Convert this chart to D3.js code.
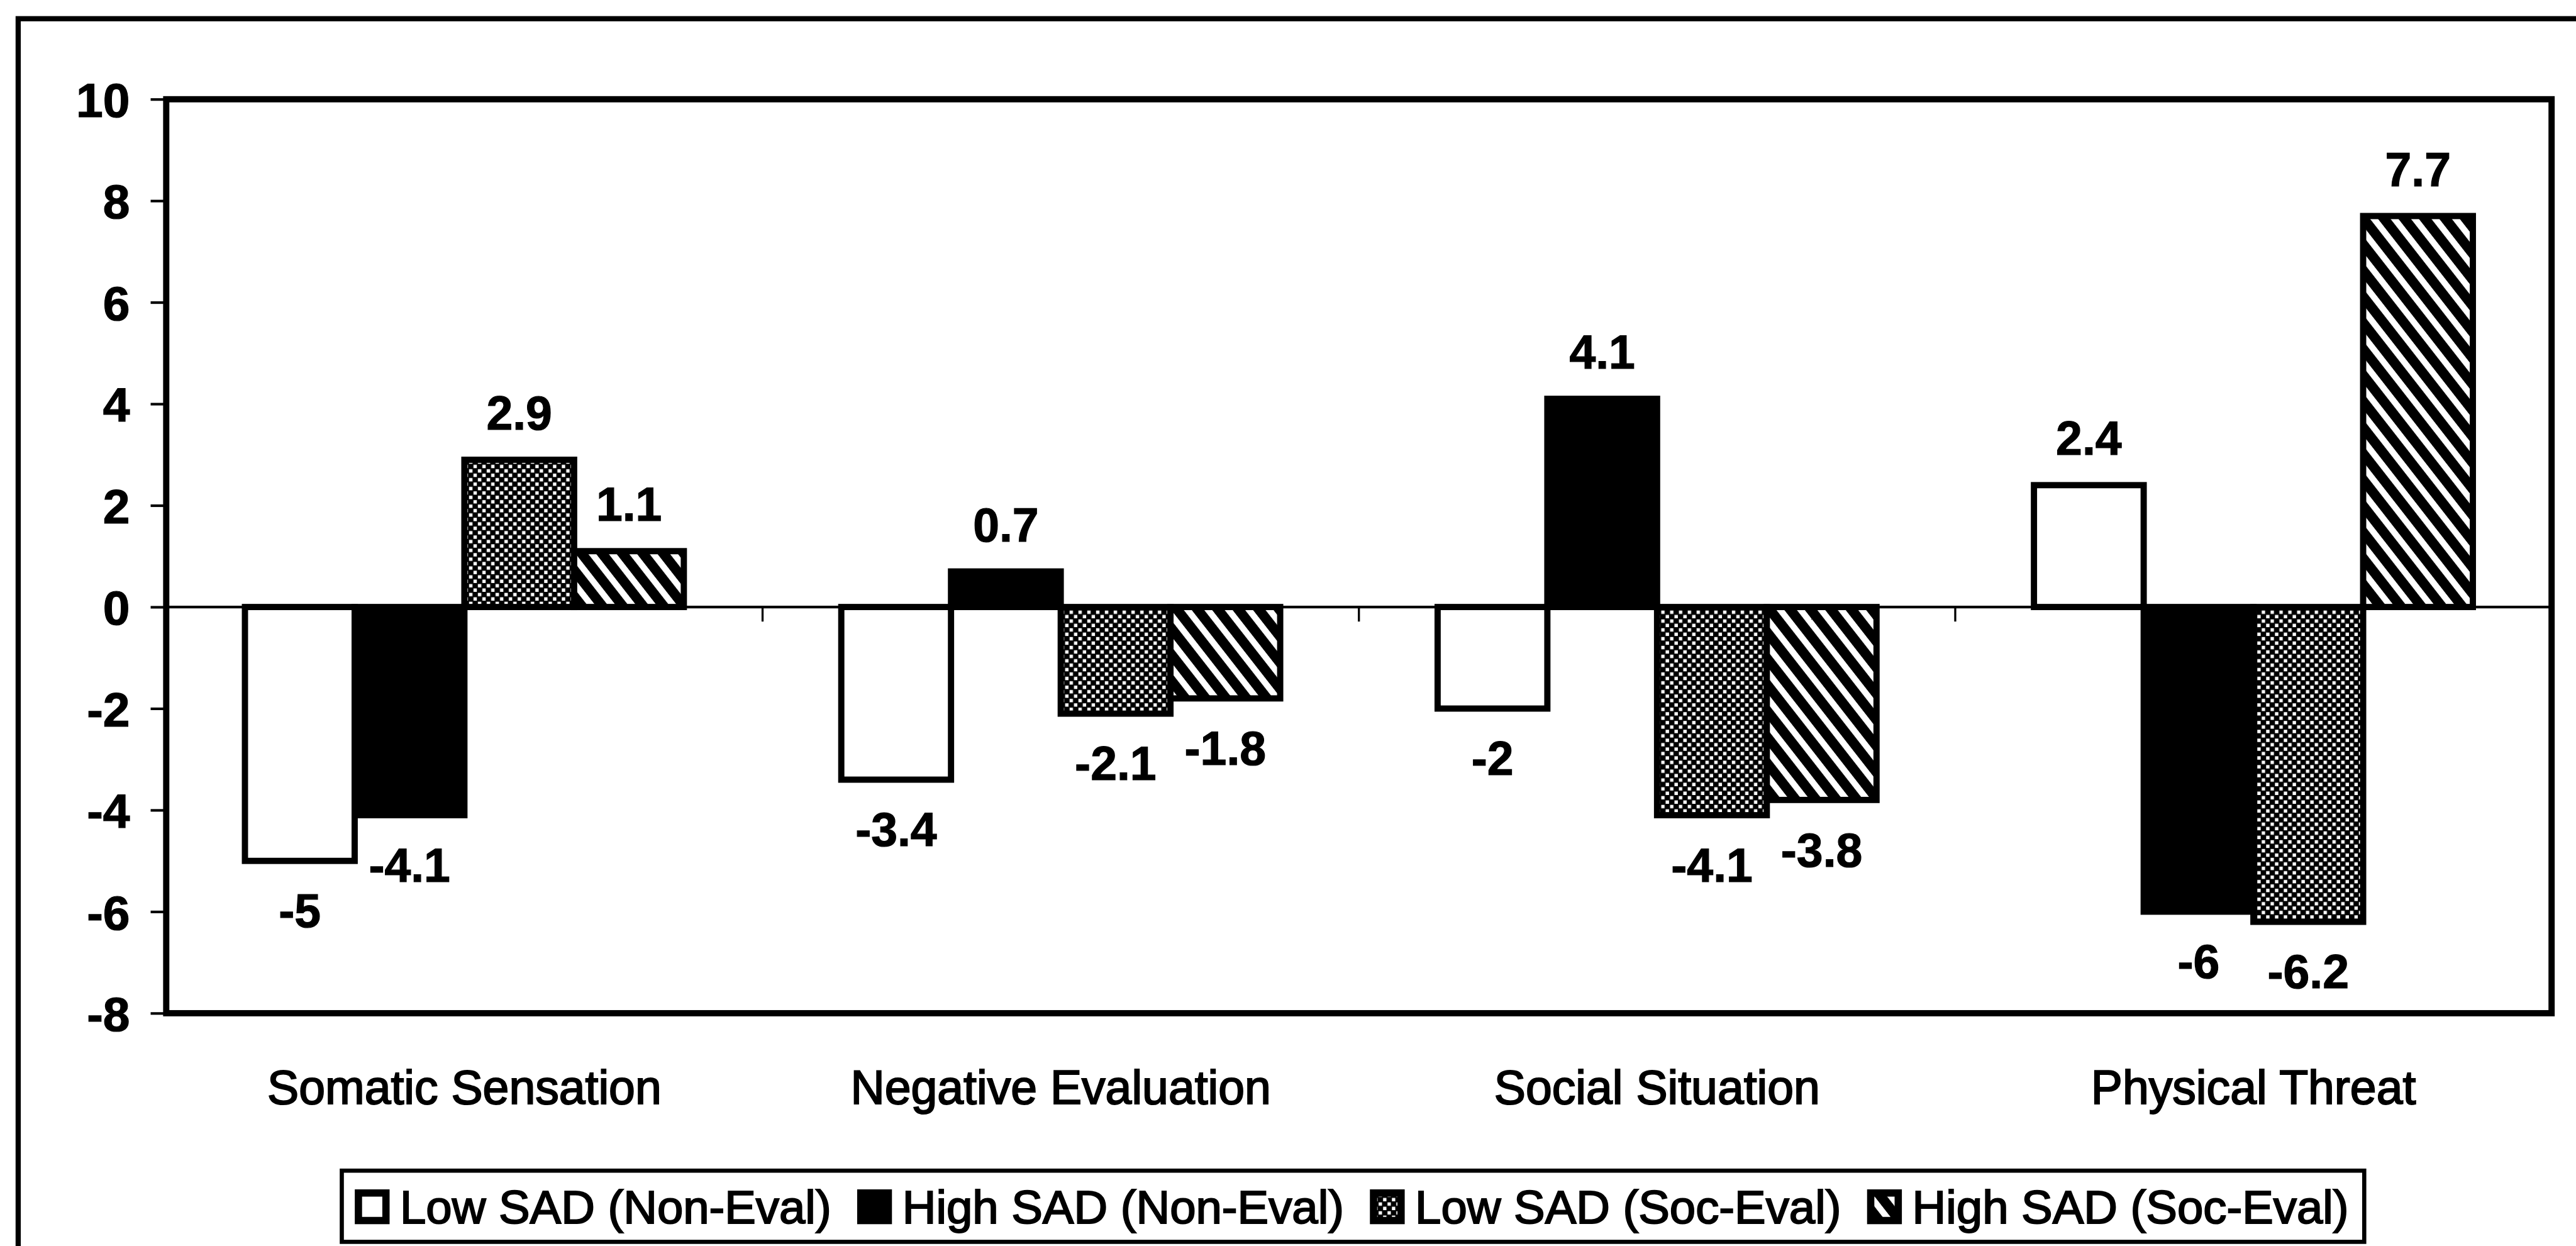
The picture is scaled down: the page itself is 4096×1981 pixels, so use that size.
<!DOCTYPE html>
<html>
<head>
<meta charset="utf-8">
<script src="https://cdn.jsdelivr.net/npm/d3@7"></script>
<style>
  html, body { margin: 0; padding: 0; background: #fff; overflow: hidden; }
  svg { display: block; }
</style>
</head>
<body>
<svg id="chart"></svg>
<script>
// ---- data -------------------------------------------------------------
const categories = ["Somatic Sensation", "Negative Evaluation", "Social Situation", "Physical Threat"];
const seriesNames = ["Low SAD (Non-Eval)", "High SAD (Non-Eval)", "Low SAD (Soc-Eval)", "High SAD (Soc-Eval)"];
const lowSadNonEval  = [-5,   -3.4, -2,   2.4];
const highSadNonEval = [-4.1,  0.7,  4.1, -6];
const lowSadSocEval  = [ 2.9, -2.1, -4.1, -6.2];
const highSadSocEval = [ 1.1, -1.8, -3.8,  7.7];
const yTicks = [10, 8, 6, 4, 2, 0, -2, -4, -6, -8];

const seriesValues = [lowSadNonEval, highSadNonEval, lowSadSocEval, highSadSocEval];
const seriesFills = ["#ffffff", "#000000", "url(#dots)", "url(#hatch)"];

// ---- canvas (drawn in a 4959 x 2398 coordinate space) ------------------
const W = 4959, H = 2398;
const FONT = "'Liberation Sans', Arial, Helvetica, sans-serif";

const svg = d3.select("#chart")
  .attr("width", 4096)
  .attr("height", 1981)
  .attr("viewBox", `0 0 ${W} ${H}`)
  .attr("preserveAspectRatio", "none");

svg.append("rect").attr("width", W).attr("height", H).attr("fill", "#fff");

// ---- fill patterns -----------------------------------------------------
const defs = svg.append("defs");

const dots = defs.append("pattern")
  .attr("id", "dots")
  .attr("patternUnits", "userSpaceOnUse")
  .attr("width", 17).attr("height", 17);
dots.append("rect").attr("width", 17).attr("height", 17).attr("fill", "#000");
dots.append("rect").attr("x", 2).attr("y", 2).attr("width", 6.5).attr("height", 6.5).attr("fill", "#fff");
dots.append("rect").attr("x", 10.5).attr("y", 10.5).attr("width", 6.5).attr("height", 6.5).attr("fill", "#fff");

const hatch = defs.append("pattern")
  .attr("id", "hatch")
  .attr("patternUnits", "userSpaceOnUse")
  .attr("width", 31).attr("height", 31)
  .attr("patternTransform", "rotate(-38)");
hatch.append("rect").attr("width", 31).attr("height", 31).attr("fill", "#fff");
hatch.append("rect").attr("width", 19).attr("height", 31).attr("fill", "#000");

// ---- outer frame -------------------------------------------------------
svg.append("rect")
  .attr("x", 35).attr("y", 36)
  .attr("width", 5000).attr("height", 2450)
  .attr("fill", "none").attr("stroke", "#000").attr("stroke-width", 10);

// ---- scales ------------------------------------------------------------
const plot = { left: 320, right: 4912, top: 191, bottom: 1950 };

const y = d3.scaleLinear().domain([-8, 10]).range([plot.bottom, plot.top]);

const x0 = d3.scaleBand()
  .domain(categories)
  .range([plot.left, plot.right])
  .paddingInner(0.264)
  .paddingOuter(0.132);

const x1 = d3.scaleBand()
  .domain(seriesNames)
  .range([0, x0.bandwidth()]);

// ---- zero line and category separators ---------------------------------
svg.append("line")
  .attr("x1", plot.left).attr("x2", plot.right)
  .attr("y1", y(0)).attr("y2", y(0))
  .attr("stroke", "#000").attr("stroke-width", 5);

const gap = x0.step() - x0.bandwidth();
svg.append("g")
  .selectAll("line")
  .data(categories.slice(1))
  .join("line")
  .attr("x1", d => x0(d) - gap / 2)
  .attr("x2", d => x0(d) - gap / 2)
  .attr("y1", y(0))
  .attr("y2", y(0) + 28)
  .attr("stroke", "#000").attr("stroke-width", 4);

// ---- bars --------------------------------------------------------------
const barData = [];
categories.forEach((c, ci) => {
  seriesNames.forEach((s, si) => {
    barData.push({ category: c, series: s, si, value: seriesValues[si][ci] });
  });
});

svg.append("g")
  .selectAll("rect")
  .data(barData)
  .join("rect")
  .attr("x", d => x0(d.category) + x1(d.series))
  .attr("width", x1.bandwidth())
  .attr("y", d => y(Math.max(0, d.value)))
  .attr("height", d => Math.abs(y(d.value) - y(0)))
  .attr("fill", d => seriesFills[d.si])
  .attr("stroke", "#000")
  .attr("stroke-width", 12);

// ---- value labels ------------------------------------------------------
svg.append("g")
  .attr("font-family", FONT)
  .attr("font-weight", "bold")
  .attr("font-size", 91)
  .attr("text-anchor", "middle")
  .attr("stroke", "#000")
  .attr("stroke-width", 1.5)
  .selectAll("text")
  .data(barData)
  .join("text")
  .attr("x", d => x0(d.category) + x1(d.series) + x1.bandwidth() / 2)
  .attr("y", d => d.value >= 0 ? y(d.value) - 58 : y(d.value) + 128)
  .text(d => String(d.value));

// ---- plot border -------------------------------------------------------
svg.append("rect")
  .attr("x", plot.left).attr("y", plot.top)
  .attr("width", plot.right - plot.left)
  .attr("height", plot.bottom - plot.top)
  .attr("fill", "none").attr("stroke", "#000").attr("stroke-width", 12);

// ---- y axis ------------------------------------------------------------
const yAxis = svg.append("g")
  .attr("transform", `translate(${plot.left},0)`)
  .call(d3.axisLeft(y)
    .tickValues(yTicks)
    .tickSize(30)
    .tickPadding(40)
    .tickFormat(d => String(d)));
yAxis.select(".domain").remove();
yAxis.selectAll(".tick line").attr("stroke", "#000").attr("stroke-width", 5);
yAxis.selectAll(".tick text")
  .attr("fill", "#000")
  .attr("stroke", "#000")
  .attr("stroke-width", 1.5)
  .attr("font-family", FONT)
  .attr("font-weight", "bold")
  .attr("font-size", 93)
  .attr("dy", "0.36em");

// ---- category labels ---------------------------------------------------
const xAxis = svg.append("g")
  .attr("transform", `translate(0,${plot.bottom})`)
  .call(d3.axisBottom(x0).tickSize(0).tickPadding(110));
xAxis.select(".domain").remove();
xAxis.selectAll(".tick text")
  .attr("fill", "#000")
  .attr("stroke", "#000")
  .attr("stroke-width", 2.5)
  .attr("font-family", FONT)
  .attr("font-size", 91);

// ---- legend ------------------------------------------------------------
const legend = { left: 658, top: 2253, height: 137, swatch: 67 };
const legendG = svg.append("g");
const legendBox = legendG.append("rect")
  .attr("x", legend.left).attr("y", legend.top)
  .attr("height", legend.height)
  .attr("fill", "#fff").attr("stroke", "#000").attr("stroke-width", 8);

let cursor = legend.left + 25;
const swTop = legend.top + (legend.height - legend.swatch) / 2 + 1;
seriesNames.forEach((name, i) => {
  legendG.append("rect")
    .attr("x", cursor + 7).attr("y", swTop + 7)
    .attr("width", legend.swatch - 14).attr("height", legend.swatch - 14)
    .attr("fill", seriesFills[i])
    .attr("stroke", "#000").attr("stroke-width", 14);
  const t = legendG.append("text")
    .attr("x", cursor + legend.swatch + 20)
    .attr("y", swTop + legend.swatch / 2 + 32)
    .attr("font-family", FONT)
    .attr("font-size", 90)
    .attr("fill", "#000")
    .attr("stroke", "#000")
    .attr("stroke-width", 2.5)
    .text(name);
  const len = t.node().getComputedTextLength();
  cursor = cursor + legend.swatch + 20 + len + 50;
});
legendBox.attr("width", cursor - 50 + 30 - legend.left);
</script>
</body>
</html>
